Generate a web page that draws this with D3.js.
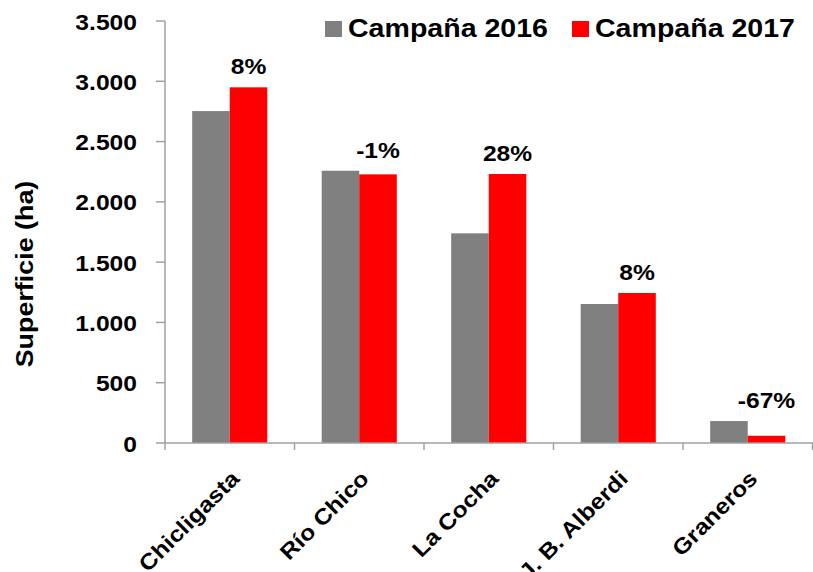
<!DOCTYPE html>
<html>
<head>
<meta charset="utf-8">
<script src="https://cdn.jsdelivr.net/npm/d3@7"></script>
<style>
  body { margin: 0; background: #fff; }
  text { font-family: "Liberation Sans", Arial, sans-serif; font-weight: bold; fill: #000; }
</style>
</head>
<body>
<svg width="813" height="572"></svg>
<script>
const categories = ["Chicligasta", "Río Chico", "La Cocha", "J. B. Alberdi", "Graneros"];
const series = ["Campaña 2016", "Campaña 2017"];
const values2016 = [2753, 2258, 1739, 1153, 182];
const values2017 = [2950, 2228, 2231, 1244, 60];
const changeLabels = ["8%", "-1%", "28%", "8%", "-67%"];
const yTicks = [0, 500, 1000, 1500, 2000, 2500, 3000, 3500];
const colors = ["#808080", "#ff0000"];

const svg = d3.select("svg");
const area = { left: 165, right: 812.5, top: 21, bottom: 443 };
const sx = 1.12; // glyphs are a bit wider than Liberation Sans

const fmt = v => d3.format(",")(v).replace(/,/g, ".");

const x = d3.scaleBand().domain(categories).range([area.left, area.right]);
const barW = x.bandwidth() * 0.29;
const xs = d3.scaleBand().domain(series).range([-barW, barW]);
const y = d3.scaleLinear().domain([0, 3500]).range([area.bottom, area.top]);

const rows = categories.map((c, i) => ({ cat: c, vals: [values2016[i], values2017[i]], label: changeLabels[i] }));

// bars
const g = svg.selectAll("g.cat").data(rows).enter().append("g")
  .attr("class", "cat")
  .attr("transform", d => `translate(${x(d.cat) + x.bandwidth() / 2},0)`);

g.selectAll("rect").data(d => d.vals.map((v, j) => ({ s: series[j], v, j }))).enter().append("rect")
  .attr("x", d => xs(d.s))
  .attr("width", xs.bandwidth())
  .attr("y", d => y(d.v))
  .attr("height", d => y(0) - y(d.v))
  .attr("fill", d => colors[d.j]);

// change labels above red bars
g.append("text")
  .attr("text-anchor", "middle")
  .attr("font-size", 22)
  .attr("transform", d => `translate(${xs(series[1]) + xs.bandwidth() / 2},${y(d3.max(d.vals)) - 13}) scale(${sx},1)`)
  .text(d => d.label);

// y axis
const axisColor = "#a0a0a0";
svg.append("line")
  .attr("x1", area.left).attr("x2", area.left)
  .attr("y1", y(3500)).attr("y2", y(0))
  .attr("stroke", axisColor).attr("stroke-width", 1.5);

const yt = svg.selectAll("g.yt").data(yTicks).enter().append("g").attr("class", "yt");
yt.append("line")
  .attr("x1", area.left - 9).attr("x2", area.left)
  .attr("y1", d => y(d)).attr("y2", d => y(d))
  .attr("stroke", axisColor).attr("stroke-width", 1.5);
yt.append("text")
  .attr("text-anchor", "end")
  .attr("font-size", 22)
  .attr("transform", d => `translate(137,${y(d) + 8.5}) scale(${sx},1)`)
  .text(d => fmt(d));

// x axis
svg.append("line")
  .attr("x1", area.left).attr("x2", 813)
  .attr("y1", y(0)).attr("y2", y(0))
  .attr("stroke", axisColor).attr("stroke-width", 1.5);

const bounds = categories.map(c => x(c)).concat([area.right]);
svg.selectAll("line.xt").data(bounds).enter().append("line")
  .attr("class", "xt")
  .attr("x1", d => d).attr("x2", d => d)
  .attr("y1", y(0)).attr("y2", y(0) + 7)
  .attr("stroke", axisColor).attr("stroke-width", 1.5);

svg.selectAll("text.xl").data(categories).enter().append("text")
  .attr("class", "xl")
  .attr("text-anchor", "end")
  .attr("font-size", 22)
  .attr("transform", d => `translate(${x(d) + x.bandwidth() / 2 + 11},${y(0) + 37}) rotate(-45) scale(${sx},1)`)
  .text(d => d);

// y title
svg.append("text")
  .attr("text-anchor", "middle")
  .attr("font-size", 24)
  .attr("transform", `translate(33,274) rotate(-90) scale(${sx},1)`)
  .text("Superficie (ha)");

// legend
const legendX = [325, 572];
const lg = svg.selectAll("g.lg").data(series).enter().append("g")
  .attr("class", "lg")
  .attr("transform", (d, i) => `translate(${legendX[i]},0)`);
lg.append("rect")
  .attr("x", 0).attr("y", 21).attr("width", 17).attr("height", 16)
  .attr("fill", (d, i) => colors[i]);
lg.append("text")
  .attr("font-size", 25.5)
  .attr("transform", `translate(23,36.5) scale(${sx},1)`)
  .text(d => d);
</script>
</body>
</html>
